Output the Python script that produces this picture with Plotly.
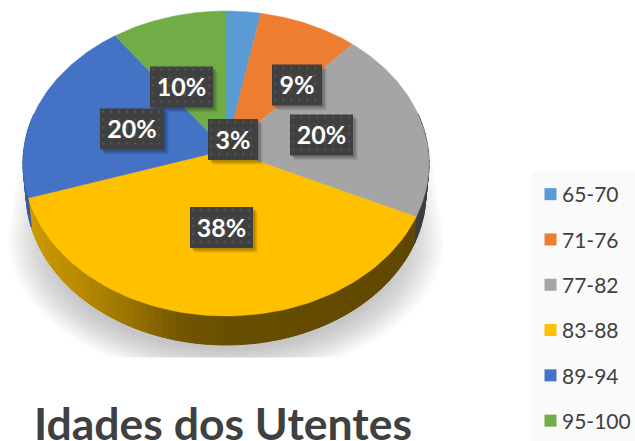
import numpy as np
import plotly.graph_objects as go

categories = ["65-70", "71-76", "77-82", "83-88", "89-94", "95-100"]
values = [3, 8.6, 20.4, 38, 20, 10]
colors = ["#5B9BD5", "#ED7D31", "#A5A5A5", "#FFC000", "#4472C4", "#70AD47"]
title_text = "Idades dos Utentes"

# pixel layout of the tilted disc
W, H = 635, 441
CX, CY, A, B, K = 226.0, 150.0, 202.2, 151.3, 0.0885
DEPTH = 29.0
# label box centres (px) per category
box_w = [50, 50, 63, 63, 64, 63]
box_c = [(233, 139.5), (297, 85), (321.5, 135), (221.5, 227.5), (132, 129), (181.5, 87)]
LABEL_DY = 3


def rim(theta):
    u, v = np.sin(theta), np.cos(theta)
    d = 1 + K * v
    return CX + A * u / d, CY - B * v / d


def rgb(hexc):
    return np.array([int(hexc[i:i + 2], 16) for i in (1, 3, 5)], float)


fig = go.Figure()

# soft shadow beneath the disc
n_sh = 16
for i in range(n_sh):
    f = i / (n_sh - 1)
    rx = 218 - 42 * f
    ry = 138 - 26 * f
    cy = 240 - 2 * f
    t = np.linspace(0, np.pi, 90)
    xs = 226 + rx * np.cos(t)
    ys = np.minimum(cy + ry * np.sin(t), 357.5)
    top_l = 24 + 34 * f
    xs = np.r_[xs, top_l, 452 - top_l]
    ys = np.r_[ys, 130, 130]
    fig.add_trace(go.Scatter(x=xs, y=ys, mode="lines", fill="toself", line=dict(width=0),
                             fillcolor="rgba(120,120,120,0.028)", showlegend=False, hoverinfo="skip"))

# side wall
total = sum(values)
edges = np.r_[0, np.cumsum(values)] / total * 2 * np.pi
step = np.radians(2.0)
for k, col in enumerate(colors):
    base = rgb(col)
    a0, a1 = edges[k], edges[k + 1]
    ts = np.arange(a0, a1 + step, step)
    ts[-1] = a1
    for t0, t1 in zip(ts[:-1], ts[1:]):
        if np.cos((t0 + t1) / 2) > 0.25:
            continue
        x0, y0 = rim(t0)
        x1, y1 = rim(t1)
        xm = (x0 + x1) / 2
        sh = np.interp(xm, [30, 80, 130, 180, 226, 430], [0.80, 0.72, 0.60, 0.45, 0.41, 0.37])
        c = (base * sh).astype(int)
        cs = f"rgb({c[0]},{c[1]},{c[2]})"
        s = 0.985
        fig.add_trace(go.Scatter(
            x=[x0, x1, CX + (x1 - CX) * s, CX + (x0 - CX) * s, x0],
            y=[y0, y1, y1 + DEPTH, y0 + DEPTH, y0],
            mode="lines", fill="toself", fillcolor=cs, line=dict(color=cs, width=1),
            showlegend=False, hoverinfo="skip"))

# top faces
for k, col in enumerate(colors):
    t = np.linspace(edges[k], edges[k + 1], 80)
    x, y = rim(t)
    fig.add_trace(go.Scatter(x=np.r_[CX, x, CX], y=np.r_[CY, y, CY], mode="lines", fill="toself",
                             fillcolor=col, line=dict(color=col, width=0.5),
                             showlegend=False, hoverinfo="skip"))

# label boxes
BOX_H = 41
for (cx, cy), w in zip(box_c, box_w):
    for off, alpha in ((5, 0.05), (4, 0.07), (3, 0.09), (2, 0.11)):
        xs = [cx - w / 2 + off, cx + w / 2 + off, cx + w / 2 + off, cx - w / 2 + off, cx - w / 2 + off]
        ys = [cy - BOX_H / 2 + off, cy - BOX_H / 2 + off, cy + BOX_H / 2 + off, cy + BOX_H / 2 + off, cy - BOX_H / 2 + off]
        fig.add_trace(go.Scatter(x=xs, y=ys, mode="lines", fill="toself", line=dict(width=0),
                                 fillcolor=f"rgba(0,0,0,{alpha})", showlegend=False, hoverinfo="skip"))
for (cx, cy), w in zip(box_c, box_w):
    xs = [cx - w / 2, cx + w / 2, cx + w / 2, cx - w / 2, cx - w / 2]
    ys = [cy - BOX_H / 2, cy - BOX_H / 2, cy + BOX_H / 2, cy + BOX_H / 2, cy - BOX_H / 2]
    fig.add_trace(go.Scatter(x=xs, y=ys, mode="lines", fill="toself", line=dict(width=0),
                             fillcolor="#404040", showlegend=False, hoverinfo="skip"))
    gx, gy = np.meshgrid(np.arange(cx - w / 2 + 3, cx + w / 2, 8), np.arange(cy - BOX_H / 2 + 3, cy + BOX_H / 2, 8))
    fig.add_trace(go.Scatter(x=gx.ravel(), y=gy.ravel(), mode="markers",
                             marker=dict(size=2.5, color="#525252", line=dict(width=0)),
                             showlegend=False, hoverinfo="skip"))

# percentage labels
pct = [f"{round(v / total * 100)}%" for v in values]
fig.add_trace(go.Scatter(x=[c[0] for c in box_c], y=[c[1] + LABEL_DY for c in box_c], mode="text", text=pct,
                         textposition="middle center",
                         textfont=dict(family="Lato", size=25, color="white", weight="bold"),
                         showlegend=False, hoverinfo="skip"))

# legend entries
for k, (name, col) in enumerate(zip(categories, colors)):
    fig.add_trace(go.Scatter(x=[None], y=[None], mode="markers", name=name, legendgroup=name,
                             marker=dict(symbol="square", size=14, color=col)))

fig.update_xaxes(range=[0, W], visible=False, fixedrange=True)
fig.update_yaxes(range=[H, 0], visible=False, fixedrange=True)
fig.update_layout(
    width=W, height=H, autosize=False,
    margin=dict(l=0, r=0, t=0, b=0, autoexpand=False),
    paper_bgcolor="white", plot_bgcolor="white",
    shapes=[dict(type="rect", xref="x", yref="y", x0=532, x1=635, y0=172, y1=441,
                 fillcolor="#FAFAFA", line=dict(width=0), layer="below")],
    legend=dict(x=522 / W, xanchor="left", y=1 - 174 / H, yanchor="top", bgcolor="rgba(0,0,0,0)",
                font=dict(family="Lato", size=21, color="#404040"),
                tracegroupgap=15, itemsizing="constant", itemwidth=30),
    title=dict(text=title_text, x=223 / W, xanchor="center", y=1 - 424 / H, yanchor="middle",
               font=dict(family="Lato", size=44.5, color="#404040", weight="bold")),
)
fig.write_html("out.html", config=dict(displayModeBar=False),
               post_script="document.body.style.margin='0';document.body.style.overflow='hidden';"
                           "document.querySelectorAll('.legendsymbols').forEach(function(n){n.setAttribute('transform','translate(8.5,0)');});")
